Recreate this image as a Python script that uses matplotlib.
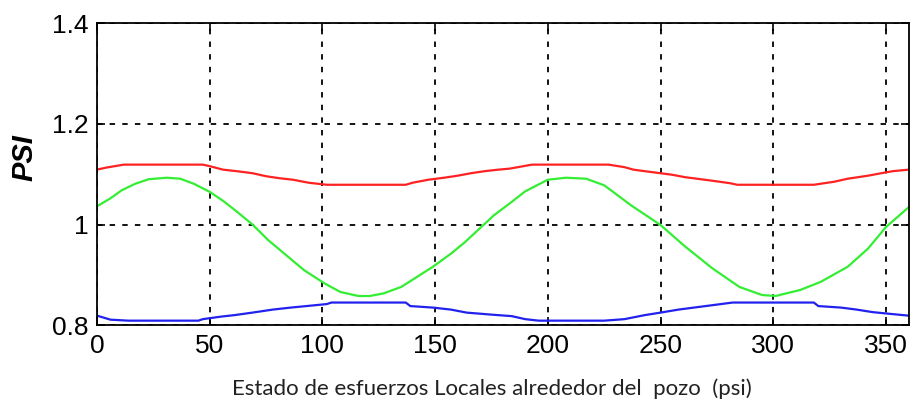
import matplotlib.pyplot as plt

# angle around the wellbore (deg) and stress ratio for each curve
red_x = [0, 4, 12, 47, 50, 56, 62, 69, 75, 81, 87, 94, 102, 137, 140, 147, 154, 160, 166, 172,
         178, 183, 193, 227, 234, 238, 243, 255, 261, 273, 281, 284, 318, 327, 333, 342, 348, 353, 360]
red_y = [1.109, 1.113, 1.119, 1.119, 1.116, 1.109, 1.106, 1.102, 1.096, 1.092, 1.089, 1.083, 1.079,
         1.079, 1.083, 1.089, 1.093, 1.097, 1.102, 1.106, 1.109, 1.111, 1.119, 1.119, 1.114, 1.109,
         1.106, 1.099, 1.094, 1.087, 1.082, 1.079, 1.079, 1.085, 1.091, 1.097, 1.102, 1.106, 1.109]

green_x = [0, 6, 11, 17, 23, 31, 37, 43, 50, 56, 62, 69, 76, 84, 92, 101, 108, 116, 121, 127, 135,
           142, 149, 157, 163, 170, 176, 184, 190, 200, 208, 217, 225, 237, 250, 261, 273, 285, 295,
           301, 312, 321, 333, 342, 350, 360]
green_y = [1.036, 1.052, 1.068, 1.081, 1.090, 1.093, 1.091, 1.081, 1.065, 1.047, 1.026, 1.000,
           0.969, 0.939, 0.909, 0.883, 0.866, 0.858, 0.858, 0.863, 0.876, 0.896, 0.916, 0.942,
           0.964, 0.993, 1.018, 1.045, 1.066, 1.089, 1.093, 1.091, 1.078, 1.038, 0.999, 0.956,
           0.913, 0.876, 0.860, 0.858, 0.870, 0.886, 0.916, 0.952, 0.995, 1.034]

blue_x = [0, 6, 14, 45, 47, 55, 61, 69, 78, 86, 93, 102, 104, 137, 139, 149, 157, 164, 175, 184,
          190, 196, 225, 234, 243, 250, 258, 270, 282, 318, 320, 330, 337, 344, 353, 360]
blue_y = [0.819, 0.811, 0.809, 0.809, 0.812, 0.817, 0.820, 0.825, 0.831, 0.835, 0.838, 0.842,
          0.845, 0.845, 0.838, 0.835, 0.831, 0.825, 0.821, 0.818, 0.812, 0.809, 0.809, 0.812,
          0.820, 0.825, 0.831, 0.838, 0.845, 0.845, 0.838, 0.835, 0.831, 0.826, 0.822, 0.819]

x_ticks = [0, 50, 100, 150, 200, 250, 300, 350]
y_ticks = [0.8, 1.0, 1.2, 1.4]
y_labels = ['0.8', '1', '1.2', '1.4']

plt.rcParams['font.family'] = ['Liberation Sans', 'DejaVu Sans']

fig = plt.figure(figsize=(9.14, 4.07), dpi=100)
ax = fig.add_axes([0.106, 0.201, 0.888, 0.742])

ax.plot(red_x, red_y, color='#ff2222', lw=1.6)
ax.plot(green_x, green_y, color='#33ee33', lw=1.6)
ax.plot(blue_x, blue_y, color='#2222ee', lw=1.6)

ax.set_xlim(0, 360)
ax.set_ylim(0.8, 1.4)
ax.set_xticks(x_ticks)
ax.set_yticks(y_ticks)
ax.set_yticklabels(y_labels)
ax.tick_params(direction='in', length=6, width=1.2, top=True, right=True,
               labelsize=19, pad=6)
ax.grid(True, color='black', linestyle=(0, (3, 4)), linewidth=1.3)
for s in ax.spines.values():
    s.set_linewidth(1.3)

ax.set_ylabel('PSI', fontsize=21, fontweight='bold', style='italic')
ax.yaxis.set_label_coords(-0.072, 0.555)
ax.set_xlabel('Estado de esfuerzos Locales alrededor del  pozo  (psi)',
              fontsize=16, family=['Lato', 'DejaVu Sans'], color='#222222')
ax.xaxis.set_label_coords(0.487, -0.175)

fig.savefig('out.png', dpi=100)
